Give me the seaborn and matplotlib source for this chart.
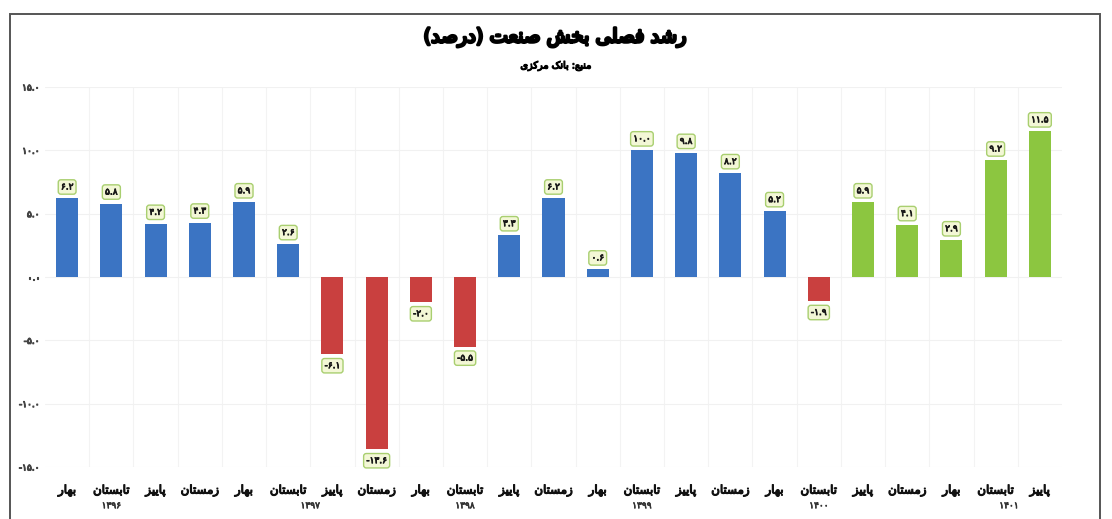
import pandas as pd
import seaborn as sns
import matplotlib.pyplot as plt
import matplotlib.patheffects as pe
from matplotlib.patches import Rectangle
from matplotlib.transforms import blended_transform_factory

# Data (quarterly growth of the industry sector, %)
seasons = ['بهار', 'تابستان', 'پاییز', 'زمستان'] * 5 + ['بهار', 'تابستان', 'پاییز']
values = [6.2, 5.8, 4.2, 4.3, 5.9, 2.6, -6.1, -13.6, -2.0, -5.5, 3.3, 6.2,
          0.6, 10.0, 9.8, 8.2, 5.2, -1.9, 5.9, 4.1, 2.9, 9.2, 11.5]
groups = ['pos'] * 6 + ['neg'] * 4 + ['pos'] * 7 + ['neg'] + ['new'] * 5
years = ['۱۳۹۶', '۱۳۹۷', '۱۳۹۸', '۱۳۹۹', '۱۴۰۰', '۱۴۰۱']
year_pos = [1.0, 5.5, 9.0, 13.0, 17.0, 21.3]

title = 'رشد فصلی بخش صنعت (درصد)'
subtitle = 'منبع: بانک مرکزی'

# --- minimal Persian shaping (matplotlib has no Arabic shaping) ---
FORMS = {
    'ا': ('\uFE8D', '\uFE8E', None, None),
    'ب': ('\uFE8F', '\uFE90', '\uFE91', '\uFE92'),
    'ت': ('\uFE95', '\uFE96', '\uFE97', '\uFE98'),
    'خ': ('\uFEA5', '\uFEA6', '\uFEA7', '\uFEA8'),
    'د': ('\uFEA9', '\uFEAA', None, None),
    'ر': ('\uFEAD', '\uFEAE', None, None),
    'ز': ('\uFEAF', '\uFEB0', None, None),
    'س': ('\uFEB1', '\uFEB2', '\uFEB3', '\uFEB4'),
    'ش': ('\uFEB5', '\uFEB6', '\uFEB7', '\uFEB8'),
    'ص': ('\uFEB9', '\uFEBA', '\uFEBB', '\uFEBC'),
    'ع': ('\uFEC9', '\uFECA', '\uFECB', '\uFECC'),
    'ف': ('\uFED1', '\uFED2', '\uFED3', '\uFED4'),
    'ل': ('\uFEDD', '\uFEDE', '\uFEDF', '\uFEE0'),
    'م': ('\uFEE1', '\uFEE2', '\uFEE3', '\uFEE4'),
    'ن': ('\uFEE5', '\uFEE6', '\uFEE7', '\uFEE8'),
    'ه': ('\uFEE9', '\uFEEA', '\uFEEB', '\uFEEC'),
    'پ': ('\uFB56', '\uFB57', '\uFB58', '\uFB59'),
    'ک': ('\uFB8E', '\uFB8F', '\uFB90', '\uFB91'),
    'ی': ('\uFBFC', '\uFBFD', '\uFBFE', '\uFBFF'),
}


def fa(text):
    out = []
    for i, c in enumerate(text):
        if c not in FORMS:
            out.append(c)
            continue
        prev = text[i - 1] if i > 0 else None
        nxt = text[i + 1] if i + 1 < len(text) else None
        jp = prev in FORMS and FORMS[prev][2] is not None
        jn = nxt in FORMS and FORMS[c][2] is not None
        f = FORMS[c]
        out.append(f[3] if jp and jn else f[1] if jp else f[2] if jn else f[0])
    s = ''.join(out)[::-1]
    return s.translate(str.maketrans('()', ')('))


def fa_num(v):
    return f'{v:.1f}'.translate(str.maketrans('0123456789', '۰۱۲۳۴۵۶۷۸۹'))


df = pd.DataFrame({'idx': range(len(values)), 'value': values, 'group': groups})
palette = {'pos': '#3b74c3', 'neg': '#c9403f', 'new': '#8cc640'}

sns.set_theme(style='whitegrid')
plt.rcParams['font.family'] = ['DejaVu Sans']

fig = plt.figure(figsize=(11.12, 5.19), dpi=100)
ax = fig.add_axes([0.0405, 0.1002, 0.9145, 0.7322])

sns.barplot(data=df, x='idx', y='value', hue='group', palette=palette,
            dodge=False, width=0.5, legend=False, ax=ax, saturation=1,
            linewidth=0)

ax.set_ylim(-15, 15)
ax.set_xlim(-0.5, len(values) - 0.5)
ax.set_yticks([15, 10, 5, 0, -5, -10, -15])
ax.set_yticklabels([fa_num(t) for t in [15, 10, 5, 0, -5, -10, -15]],
                   fontsize=6.5, color='#444444')
ax.set_xticks(range(len(values)))
ax.set_xticklabels([fa(s) for s in seasons], fontsize=8.5, color='#111111')
for lab in ax.get_xticklabels() + ax.get_yticklabels():
    lab.set_path_effects([pe.withStroke(linewidth=0.8, foreground=lab.get_color())])
ax.tick_params(axis='x', pad=12, length=0)
ax.tick_params(axis='y', pad=4, length=0)
ax.set_xlabel('')
ax.set_ylabel('')
ax.grid(True, color='#f1f1f1', linewidth=0.8)
ax.set_axisbelow(True)
ax.set_xticks([i + 0.5 for i in range(len(values) - 1)], minor=True)
ax.grid(False, axis='x', which='major')
ax.grid(True, axis='x', which='minor', color='#f3f3f3', linewidth=0.8)
for s in ax.spines.values():
    s.set_visible(False)

# value labels
for i, v in enumerate(values):
    off = 0.55 if v >= 0 else -0.55
    ax.text(i, v + off, fa_num(v), ha='center', va='bottom' if v >= 0 else 'top',
            fontsize=6.5, color='#1a1a1a',
            path_effects=[pe.withStroke(linewidth=0.6, foreground='#1a1a1a')],
            bbox=dict(boxstyle='round,pad=0.3', fc='#f3f7d6', ec='#a9cf70', lw=1))

# year labels
tr = blended_transform_factory(ax.transData, ax.transAxes)
for y, p in zip(years, year_pos):
    ax.text(p, -0.102, y, transform=tr, ha='center', va='center', fontsize=6.5,
            color='#333333',
            path_effects=[pe.withStroke(linewidth=0.5, foreground='#333333')])

fig.text(0.5, 0.928, fa(title), ha='center', va='center', fontsize=14,
         color='black', path_effects=[pe.withStroke(linewidth=2.0, foreground='black')])
fig.text(0.5, 0.873, fa(subtitle), ha='center', va='center', fontsize=7,
         color='black', path_effects=[pe.withStroke(linewidth=0.9, foreground='black')])

# outer frame
fig.patches.append(Rectangle((10 / 1112, -0.05), 1090 / 1112, 1 - 14 / 519 + 0.05,
                             transform=fig.transFigure, fill=False,
                             edgecolor='#555555', linewidth=1.4))

fig.savefig('out.png', dpi=100)
